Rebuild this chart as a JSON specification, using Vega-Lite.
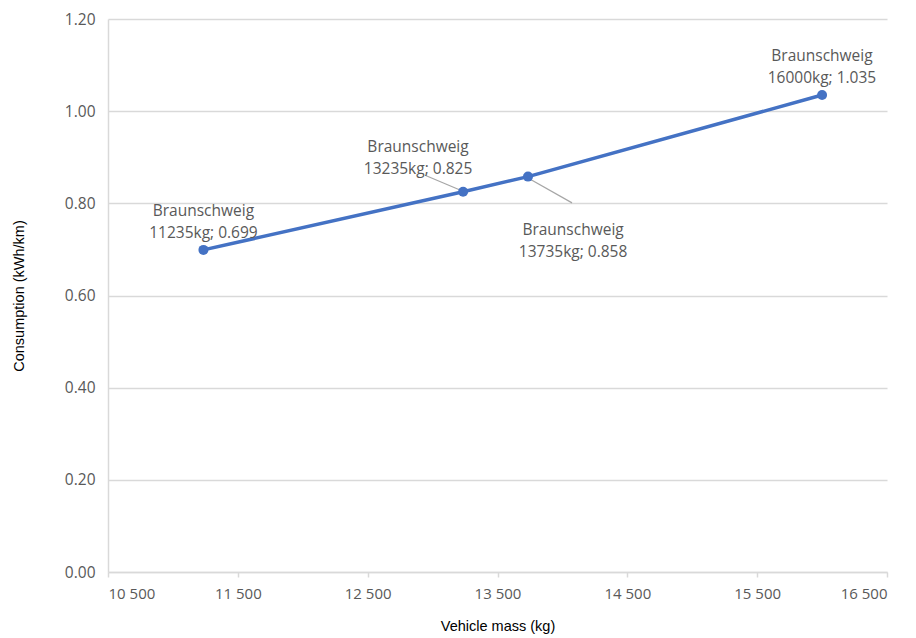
{
  "$schema": "https://vega.github.io/schema/vega-lite/v6.json",
  "autosize": "none",
  "width": 779,
  "height": 553,
  "padding": {"left": 108, "top": 19, "right": 29, "bottom": 66},
  "background": "white",
  "config": {"view": {"stroke": null}},
  "datasets": {
    "points": [
      {"mass": 11235, "consumption": 0.699},
      {"mass": 13235, "consumption": 0.825},
      {"mass": 13735, "consumption": 0.858},
      {"mass": 16000, "consumption": 1.035}
    ],
    "labels": [
      {"lx": 11235, "ly": 0.783, "label": "Braunschweig\n11235kg; 0.699"},
      {"lx": 12888, "ly": 0.922, "label": "Braunschweig\n13235kg; 0.825"},
      {"lx": 14082, "ly": 0.742, "label": "Braunschweig\n13735kg; 0.858"},
      {"lx": 15999, "ly": 1.12, "label": "Braunschweig\n16000kg; 1.035"}
    ],
    "leaders": [
      {"x1": 12942, "y1": 0.861, "x2": 13211, "y2": 0.829},
      {"x1": 13735, "y1": 0.855, "x2": 14074, "y2": 0.801}
    ]
  },
  "layer": [
    {
      "data": {"name": "leaders"},
      "mark": {"type": "rule", "color": "#a6a6a6", "strokeWidth": 1.2},
      "encoding": {
        "x": {"field": "x1", "type": "quantitative", "scale": {"domain": [10500, 16500]}},
        "y": {"field": "y1", "type": "quantitative", "scale": {"domain": [0, 1.2]}},
        "x2": {"field": "x2"},
        "y2": {"field": "y2"}
      }
    },
    {
      "data": {"name": "points"},
      "mark": {"type": "line", "color": "#4472C4", "strokeWidth": 3.5, "point": {"filled": true, "size": 100, "color": "#4472C4"}},
      "encoding": {
        "x": {
          "field": "mass", "type": "quantitative",
          "scale": {"domain": [10500, 16500], "nice": false, "zero": false},
          "axis": {
            "values": [10500, 11500, 12500, 13500, 14500, 15500, 16500],
            "labelExpr": "replace(format(datum.value, ','), ',', ' ')",
            "title": "Vehicle mass (kg)",
            "titleFont": "Liberation Sans", "titleFontSize": 14.5, "titleFontWeight": "normal", "titleColor": "#000000", "titlePadding": 18,
            "labelFont": "Open Sans", "labelFontSize": 15, "labelColor": "#595959", "labelPadding": 9,
            "grid": false, "domainColor": "#d9d9d9", "domainWidth": 1.5, "tickColor": "#d9d9d9", "tickSize": 5, "tickWidth": 1.5
          }
        },
        "y": {
          "field": "consumption", "type": "quantitative",
          "scale": {"domain": [0, 1.2], "nice": false},
          "axis": {
            "values": [0, 0.2, 0.4, 0.6, 0.8, 1.0, 1.2],
            "format": ".2f",
            "title": "Consumption (kWh/km)",
            "titleFont": "Liberation Sans", "titleFontSize": 14.5, "titleFontWeight": "normal", "titleColor": "#000000", "titlePadding": 38,
            "labelFont": "Open Sans", "labelFontSize": 15.5, "labelColor": "#595959", "labelPadding": 13,
            "grid": true, "gridColor": "#d9d9d9", "gridWidth": 1.5,
            "domainColor": "#d9d9d9", "domainWidth": 1.5, "ticks": false
          }
        }
      }
    },
    {
      "data": {"name": "labels"},
      "mark": {"type": "text", "font": "Open Sans", "fontSize": 15.5, "color": "#595959", "lineBreak": "\n", "lineHeight": 22, "align": "center", "baseline": "middle"},
      "encoding": {
        "x": {"field": "lx", "type": "quantitative"},
        "y": {"field": "ly", "type": "quantitative"},
        "text": {"field": "label"}
      }
    }
  ]
}
